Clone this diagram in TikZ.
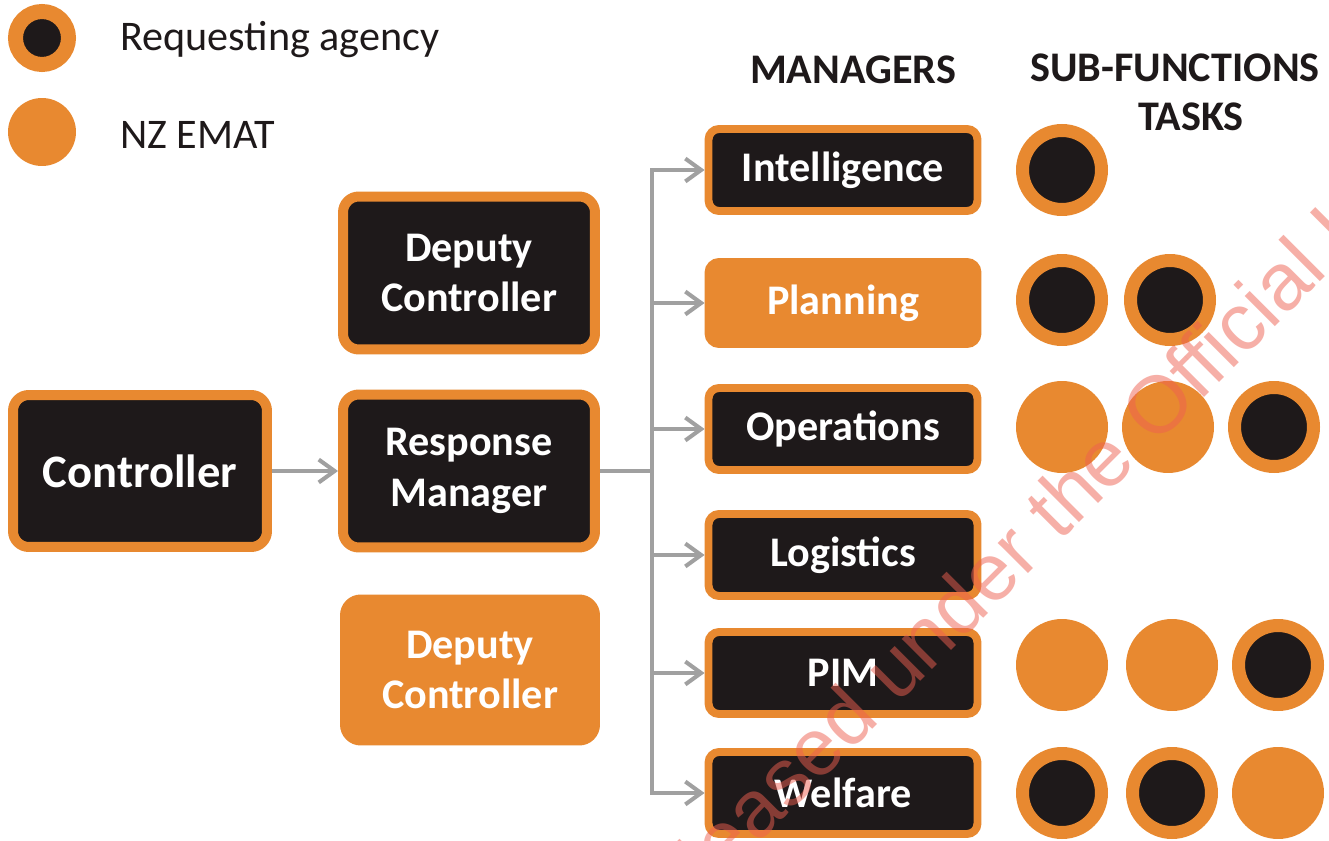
\documentclass[tikz,border=0pt]{standalone}
\usepackage{fontspec}
\setmainfont{Carlito}
\newfontfamily\stampfont{Liberation Sans}
\usetikzlibrary{arrows.meta}
\definecolor{emat}{RGB}{232,137,48}
\definecolor{ink}{RGB}{30,25,26}
\definecolor{link}{RGB}{160,160,160}
\definecolor{stamp}{RGB}{238,96,80}

\begin{document}
\begin{tikzpicture}[x=0.02cm,y=-0.02cm,
  box/.style={draw=emat,fill=ink,line width=5.7pt,rounded corners=9pt,text=white,align=center,inner sep=0pt,
    font=\bfseries\fontsize{24}{29}\selectfont,minimum width=5.04cm,minimum height=3.06cm},
  mgr/.style={box,line width=4.5pt,rounded corners=6pt,minimum width=5.38cm,minimum height=1.64cm},
  nz/.style={fill=emat},
  con/.style={draw=link,line width=2.3pt},
  >={Straight Barb[length=9pt,width=13pt]},
  req/.style={draw=emat,fill=ink,line width=0.26cm},
  hd/.style={font=\bfseries\fontsize{24}{29}\selectfont,text=ink},
  lg/.style={anchor=west,font=\fontsize{24}{28}\selectfont,text=ink},
  wm/.style={rotate=45,text=stamp,opacity=0.5,inner sep=0pt,font=\stampfont\fontsize{46}{46}\selectfont}]
\useasboundingbox[fill=white](0,0)rectangle(1329,841);
% legend
\draw[req,line width=0.3cm](42,38)circle(0.53cm);\node[lg](lreq)at(114,40){Requesting agency};
\fill[emat](42,132)circle(0.68cm);\node[lg](lnz)at(114,135){NZ EMAT};
% column heads
\node[hd](mgrs)at(853,70){MANAGERS};\node[hd](subf)at(1175,68){SUB-FUNCTIONS};\node[hd](tsk)at(1191,117){TASKS};
% controller and deputies
\node[box,minimum width=5.08cm,minimum height=3.04cm,font=\bfseries\fontsize{26.5}{31}\selectfont](ctrl)at(140,471){Controller};
\node[box](dep)at(469,273){Deputy\\Controller};
\node[box](resp)at(469,471){Response\\Manager};
\node[box,nz,minimum width=5cm,minimum height=2.82cm](depnz)at(470,670){Deputy\\Controller};
% managers
\node[mgr](intel)at(843,170){Intelligence};\node[mgr,nz](plan)at(843,303){Planning};
\node[mgr](ops)at(843,429){Operations};\node[mgr](logi)at(843,555){Logistics};
\node[mgr](pim)at(843,673){PIM};\node[mgr](welf)at(843,793){Welfare};
% links
\coordinate(j)at(652,471);
\draw[con,->](ctrl)--(resp);\draw[con](resp)--(j);\draw[con,line cap=rect](j|-intel)--(j|-welf);
\draw[con,->](j|-intel)--(intel);\draw[con,->](j|-plan)--(plan);\draw[con,->](j|-ops)--(ops);
\draw[con,->](j|-logi)--(logi);\draw[con,->](j|-pim)--(pim);\draw[con,->](j|-welf)--(welf);
% sub-function tasks
\draw[req](1062,170)circle(0.79cm);
\draw[req](1062,300)circle(0.79cm);\draw[req](1170,300)circle(0.79cm);
\fill[emat](1062,427)circle(0.92cm);\fill[emat](1168,427)circle(0.92cm);\draw[req](1274,427)circle(0.79cm);
\fill[emat](1062,665)circle(0.92cm);\fill[emat](1172,665)circle(0.92cm);\draw[req](1278,665)circle(0.79cm);
\draw[req](1062,793)circle(0.79cm);\draw[req](1172,793)circle(0.79cm);\fill[emat](1278,793)circle(0.92cm);
% release stamp
\begin{scope}
\clip(0,0)rectangle(1329,841);
\node[wm,anchor=base east](stampa)at(1139,463){Released under the};
\node[wm,anchor=base west](stampb)at(1155,447){Official Information Act};
\end{scope}
\end{tikzpicture}
\end{document}
